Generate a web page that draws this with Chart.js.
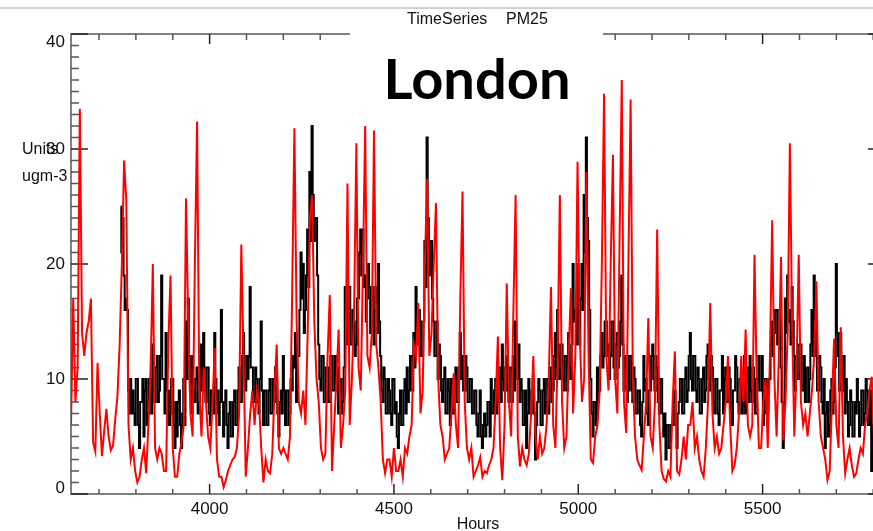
<!DOCTYPE html>
<html>
<head>
<meta charset="utf-8">
<title>TimeSeries PM25 - London</title>
<script src="https://cdn.jsdelivr.net/npm/chart.js@4.4.1/dist/chart.umd.min.js"></script>
<style>
  html, body { margin: 0; padding: 0; background: #fff; overflow: hidden; }
  #chart { display: block; }
</style>
</head>
<body>
<canvas id="chart" width="900" height="531"></canvas>
<script>
/* ── Data: PM2.5 from hour 3624 (1 June) to the end of August ──────── */
const START_HOUR = 3624;
const RED_STEP = 6;    // modelled values every 6 hours
const BLACK_STEP = 3;  // observed values every 3 hours

// modelled (red), 4 values a day
const redJune = [
    6, 17, 8, 11,  33.5, 14, 12, 14,  15, 17, 4.5, 3.7,  11.4, 7, 3.3, 5.5,  7.4, 5, 3.8, 4.2,
    6.5, 8.5, 13, 20,  29, 25.5, 6, 3,  4, 2, 1, 1.5,  3, 4, 1.8, 6,  11, 20, 4, 3,
    4, 3.5, 2, 2,  13, 19, 4, 1.5,  1.5, 3.5, 4.5, 6,  25.7, 15, 7, 5,  20, 32.4, 9, 5,
    11, 8, 5, 4,  8, 12.7, 3, 1.5,  1.5, 0.6, 1.2, 2,  2.5, 3, 3.2, 4,  7, 21.7, 12, 1.5,
    4, 7, 9, 6,  9, 8, 4, 1,  3, 2, 1.8, 3.5,  9, 13, 4, 3.5,  4, 3.5, 3, 5,
    17.7, 31.8, 15, 8,  7, 9, 6, 14,  24, 26, 15, 10,  8, 4, 3, 3.5,  12, 17.3, 2, 6,
];
const redJuly = [
    10, 14.3, 4, 6,  9, 27, 6, 10,  16, 30.5, 11, 9,  20, 32, 12, 11,  14, 31.6, 13, 11,
    8, 3, 1.8, 3,  3, 1.5, 4, 2,  2, 3, 1.5, 4,  3.5, 5, 6, 13,  12, 16.6, 7, 9,
    20, 27.4, 12, 14,  20, 25.3, 10, 6,  5, 3, 3.5, 4,  7, 10.5, 6, 4,  17, 26.3, 8, 4,
    3, 4, 1.5, 2,  2.5, 3.2, 1.5, 2,  1.8, 2.5, 3, 4,  8, 13.7, 4, 1.2,  6, 18.3, 8, 5,
    16, 26, 5, 2.4,  4, 3, 2.5, 3.5,  7, 12, 5, 3,  5, 3.5, 4, 6,  10, 18, 6, 4,
    12, 26, 8, 4,  5, 12, 17.9, 7,  12, 28.9, 14, 8,  10, 28, 12, 3,  2.7, 5, 6, 9,
    20, 34.8, 12, 9,
];
const redAugust = [
    20, 29.5, 10, 7,  22, 36, 8, 5.3,  20, 34.3, 10, 5,  3, 2.5, 2.1, 5,  8, 15.3, 5, 4,
    8, 23, 6, 2,  1.3, 1.1, 2, 1.5,  8, 12.4, 2, 1.7,  3, 5, 3, 6,  6, 8, 4, 5,
    3, 2, 1.5, 4,  8, 16.6, 7, 4,  5, 3.5, 4, 6,  8, 12, 6, 2,  2.5, 4, 7, 12,
    8, 14.3, 6, 5,  6, 20.8, 10, 4,  4, 8, 10, 4,  12, 23.8, 10, 5,  12, 20.6, 4.7, 8,
    14, 30.5, 15, 5,  11, 20.8, 8, 6,  7, 5, 7, 9,  12, 18.5, 8, 5,  4, 3, 1.2, 2,
    8, 13.5, 6, 4,  14.5, 5, 1.8, 3,  4, 2.5, 1.5, 1.8,  3, 4, 3.5, 6,  7, 9, 10.2, 5,
    6, 8, 5, 7,
];

// observed (black), 8 values a day, nothing recorded for the first days of June
const blackJune = [
    null, null, null, null, null, null, null, null,  null, null, null, null, null, null, null, null,
    null, null, null, null, null, null, null, null,  null, null, null, null, null, null, null, null,
    null, null, null, null, null, null, null, null,  null, null, null, null, null, 25, 21, 24,
    19, 16, 17, 16, 9, 7, 10, 7,  9, 7, 6, 10, 10, 6, 4, 8,
    8, 10, 5, 9, 10, 6, 7, 10,  10, 7, 13, 9, 8, 11, 12, 8,
    9, 12, 19, 10, 10, 7, 14, 9,  9, 6, 7, 10, 10, 6, 4, 8,
    5, 8, 9, 6, 4, 7, 10, 6,  15, 10, 17, 12, 9, 7, 12, 9,
    8, 10, 11, 7, 8, 11, 13, 9,  14, 9, 8, 11, 11, 7, 6, 9,
    9, 7, 14, 10, 7, 9, 6, 8,  16, 8, 5, 8, 9, 6, 4, 7,
    8, 5, 5, 8, 9, 6, 6, 9,  11, 8, 8, 12, 14, 10, 9, 12,
    10, 12, 18, 11, 11, 8, 8, 11,  10, 8, 7, 10, 15, 9, 6, 9,
    9, 6, 6, 9, 10, 7, 7, 10,  8, 11, 10, 7, 5, 8, 9, 7,
    12, 9, 6, 9, 9, 6, 7, 10,  9, 12, 11, 14, 8, 12, 12, 16,
    21, 17, 20, 14, 16, 19, 23, 18,  28, 22, 32, 26, 22, 24, 24, 19,
    13, 10, 9, 12, 12, 8, 8, 11,  11, 8, 8, 12, 12, 9, 9, 12,
];
const blackJuly = [
    9, 11, 7, 9, 10, 7, 8, 11,  18, 13, 14, 18, 18, 13, 13, 16,
    15, 12, 13, 17, 17, 21, 23, 19,  23, 18, 19, 15, 17, 20, 18, 14,
    15, 18, 13, 16, 18, 14, 20, 15,  12, 9, 8, 11, 10, 7, 7, 10,
    9, 7, 6, 10, 10, 7, 8, 5,  4, 7, 9, 6, 6, 9, 10, 7,
    11, 8, 9, 12, 12, 9, 14, 11,  18, 13, 13, 16, 15, 12, 12, 15,
    22, 18, 31, 24, 19, 22, 22, 17,  15, 12, 12, 15, 10, 13, 12, 9,
    8, 10, 11, 7, 7, 10, 9, 6,  10, 7, 7, 10, 11, 8, 8, 11,
    14, 10, 12, 9, 9, 12, 11, 8,  8, 10, 10, 7, 7, 9, 9, 6,
    5, 7, 9, 5, 4, 6, 7, 5,  6, 8, 8, 5, 10, 7, 7, 9,
    10, 7, 8, 11, 11, 8, 13, 10,  9, 11, 12, 9, 8, 11, 11, 8,
    12, 9, 15, 11, 10, 13, 8, 10,  9, 6, 6, 9, 4, 7, 10, 7,
    7, 9, 10, 7, 3, 6, 8, 10,  9, 6, 6, 9, 10, 7, 8, 10,
    7, 10, 11, 8, 9, 12, 14, 10,  16, 12, 10, 13, 13, 10, 9, 12,
    12, 9, 14, 11, 10, 13, 20, 15,  16, 13, 20, 15, 13, 17, 20, 16,
    26, 21, 31, 24, 22, 16, 10, 7,  5, 8, 8, 6, 11, 8, 9, 12,
    14, 11, 12, 15, 15, 12, 13, 10,
];
const blackAugust = [
    12, 15, 15, 11, 10, 13, 14, 11,  12, 15, 19, 13, 9, 12, 11, 8,
    9, 12, 12, 9, 8, 11, 10, 7,  7, 9, 9, 6, 5, 8, 12, 9,
    10, 7, 6, 9, 9, 12, 13, 10,  9, 12, 11, 8, 7, 10, 10, 7,
    5, 7, 3, 6, 6, 4, 4, 6,  6, 8, 9, 6, 4, 7, 8, 10,
    10, 7, 7, 10, 11, 8, 9, 12,  14, 10, 9, 12, 12, 9, 8, 11,
    10, 7, 7, 10, 11, 8, 9, 12,  13, 10, 9, 12, 11, 8, 7, 10,
    10, 7, 6, 9, 9, 12, 7, 10,  11, 8, 8, 11, 10, 7, 6, 9,
    9, 12, 11, 8, 7, 10, 10, 7,  9, 12, 7, 10, 11, 8, 12, 9,
    8, 11, 10, 7, 7, 10, 12, 9,  9, 12, 6, 9, 10, 7, 7, 10,
    10, 13, 15, 12, 14, 16, 16, 13,  13, 16, 11, 8, 4, 8, 17, 14,
    19, 15, 16, 13, 18, 15, 12, 9,  10, 13, 13, 10, 13, 9, 9, 12,
    8, 11, 11, 8, 10, 13, 16, 12,  19, 15, 12, 9, 9, 12, 11, 8,
    7, 10, 4, 7, 8, 5, 6, 9,  10, 7, 8, 11, 20, 14, 12, 9,
    14, 11, 9, 12, 7, 10, 8, 5,  6, 9, 8, 5, 5, 8, 7, 10,
    8, 5, 6, 9, 9, 6, 7, 10,  9, 6, 6, 9, 2, 6, 8, 11,
    7, 10, 9, 6, 6, 9, 8, 5,
];

/* ── Axes ─────────────────────────────────────────────────────────── */
const X_RANGE = [3624, 5832];
const Y_RANGE = [0, 40];
const xTicks = [
    3700, 3800, 3900, 4000, 4100, 4200, 4300, 4400, 4500, 4600, 4700,
    4800, 4900, 5000, 5100, 5200, 5300, 5400, 5500, 5600, 5700, 5800,
];
const xLabels = [4000, 4500, 5000, 5500];
const yLabels = [0, 10, 20, 30, 40];

const FONT = '"Liberation Sans", Arial, sans-serif';

const toPoints = (values, step) =>
    values.map((v, i) => ({ x: START_HOUR + i * step, y: v }));

const red = [...redJune, ...redJuly, ...redAugust];
const black = [...blackJune, ...blackJuly, ...blackAugust];

/* ── IDL style frame, ticks and texts ─────────────────────────────── */
function segment(ctx, x1, y1, x2, y2) {
    ctx.beginPath();
    ctx.moveTo(x1, y1);
    ctx.lineTo(x2, y2);
    ctx.stroke();
}

const idlFrame = {
    id: 'idlFrame',
    beforeDatasetsDraw(chart) {
        const { ctx, chartArea: a, scales: { x, y } } = chart;
        ctx.save();

        // window border line above the plot
        ctx.strokeStyle = '#d0d0d0';
        ctx.lineWidth = 2;
        segment(ctx, 0, 8, chart.width, 8);

        ctx.strokeStyle = '#808080';
        ctx.lineWidth = 2;
        ctx.strokeRect(a.left, a.top, a.right - a.left, a.bottom - a.top);

        ctx.lineWidth = 1.5;
        x.ticks.forEach(t => {
            const px = x.getPixelForValue(t.value);
            const major = xLabels.includes(t.value);
            ctx.strokeStyle = major ? '#222' : '#555';
            segment(ctx, px, a.bottom, px, a.bottom - (major ? 10 : 5));
            segment(ctx, px, a.top, px, a.top + (major ? 10 : 6));
        });
        y.ticks.forEach(t => {
            const py = y.getPixelForValue(t.value);
            const major = yLabels.includes(t.value);
            ctx.strokeStyle = major ? '#222' : '#555';
            segment(ctx, a.left, py, a.left + (major ? 17 : 8), py);
            segment(ctx, a.right, py, a.right - (major ? 17 : 8), py);
        });

        // white patch behind the "London" caption
        ctx.fillStyle = '#fff';
        ctx.fillRect(350, 22, 253, 34);
        ctx.restore();
    },
    afterDraw(chart) {
        const { ctx, chartArea: a, scales: { x, y } } = chart;
        ctx.save();
        ctx.fillStyle = '#111';
        ctx.textBaseline = 'middle';
        ctx.font = `17px ${FONT}`;

        // y labels, the end ones kept inside the frame
        ctx.textAlign = 'right';
        yLabels.forEach(v => {
            const py = Math.min(Math.max(y.getPixelForValue(v), a.top + 8), a.bottom - 6);
            ctx.fillText(String(v), 65, py);
        });

        // x labels under the frame
        ctx.textAlign = 'center';
        xLabels.forEach(v => {
            ctx.fillText(String(v), x.getPixelForValue(v), a.bottom + 15);
        });

        ctx.font = `16px ${FONT}`;
        ctx.fillText('Hours', (a.left + a.right) / 2, 525);

        ctx.textAlign = 'left';
        ctx.fillText('Units', 22, 150);
        ctx.fillText('ugm-3', 22, 177);
        ctx.fillText('TimeSeries', 407, 20);
        ctx.fillText('PM25', 506, 20);

        ctx.fillStyle = '#000';
        ctx.textAlign = 'center';
        ctx.textBaseline = 'alphabetic';
        ctx.font = 'bold 56px Lato, "Open Sans", sans-serif';
        ctx.fillText('London', 477, 99);
        ctx.restore();
    },
};

/* ── Chart ────────────────────────────────────────────────────────── */
new Chart(document.getElementById('chart').getContext('2d'), {
    type: 'line',
    data: {
        datasets: [
            {
                label: 'Model',
                data: toPoints(red, RED_STEP),
                borderColor: '#ff0000',
                borderWidth: 2,
                pointRadius: 0,
                tension: 0,
            },
            {
                label: 'Observed',
                data: toPoints(black, BLACK_STEP),
                borderColor: '#000000',
                borderWidth: 2,
                pointRadius: 0,
                stepped: 'middle',
                spanGaps: false,
            },
        ],
    },
    options: {
        responsive: false,
        animation: false,
        devicePixelRatio: 1,
        layout: { padding: { top: 34, right: 15, left: 0, bottom: 0 } },
        plugins: { legend: { display: false }, tooltip: { enabled: false } },
        scales: {
            x: {
                type: 'linear',
                min: X_RANGE[0],
                max: X_RANGE[1],
                grid: { display: false, drawTicks: false },
                border: { display: false },
                ticks: { display: false },
                afterBuildTicks: s => { s.ticks = xTicks.map(value => ({ value })); },
                afterFit: s => { s.height = 37; },
            },
            y: {
                min: Y_RANGE[0],
                max: Y_RANGE[1],
                grid: { display: false, drawTicks: false },
                border: { display: false },
                ticks: { stepSize: 1, maxTicksLimit: 100, display: false },
                afterFit: s => { s.width = 71; },
            },
        },
    },
    plugins: [idlFrame],
});
</script>
</body>
</html>
